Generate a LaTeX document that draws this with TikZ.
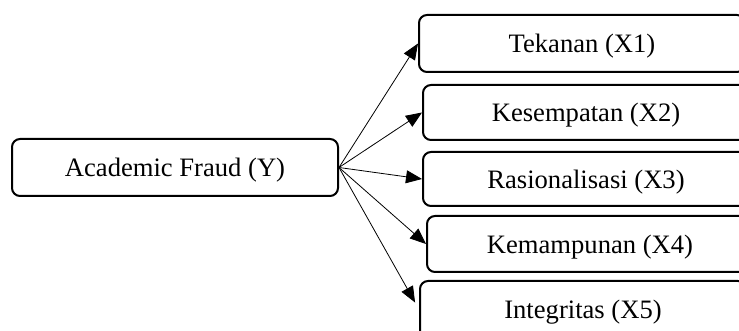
\documentclass[tikz,border=0pt]{standalone}
\usepackage{fontspec}
\setmainfont{Liberation Serif}
\usetikzlibrary{arrows.meta}

\begin{document}
\begin{tikzpicture}[x=0.5pt,y=-0.5pt,-{Triangle[length=8pt,width=6.5pt]},
                    thin,font=\fontsize{13.3}{16}\selectfont]

  \tikzstyle{every node}=[rectangle,draw,line width=1pt,rounded corners=4pt,
                          minimum width=163pt,inner sep=0pt,text depth=0pt]

  \useasboundingbox (0,0) rectangle (739,331);

  \node[minimum height=28.5pt] (AF) at (175,167.5) {Academic Fraud (Y)};
  \node[minimum height=28.5pt] (TK) at (582,43.5)  {Tekanan (X1)};
  \node[minimum height=27.5pt] (KS) at (586,112.5) {Kesempatan (X2)};
  \node[minimum height=27pt]   (RS) at (586,179)   {Rasionalisasi (X3)};
  \node[minimum height=28pt]   (KM) at (590,244)   {Kemampunan (X4)};
  \node[minimum height=28.5pt] (IN) at (583,309.5) {Integritas (X5)};

  \draw (AF.east) -- (TK.west);
  \draw (AF.east) -- (KS.west);
  \draw (AF.east) -- (RS.west);
  \draw (AF.east) -- (KM.west);
  \draw[shorten >=4pt] (AF.east) -- (IN.west);
\end{tikzpicture}
\end{document}
